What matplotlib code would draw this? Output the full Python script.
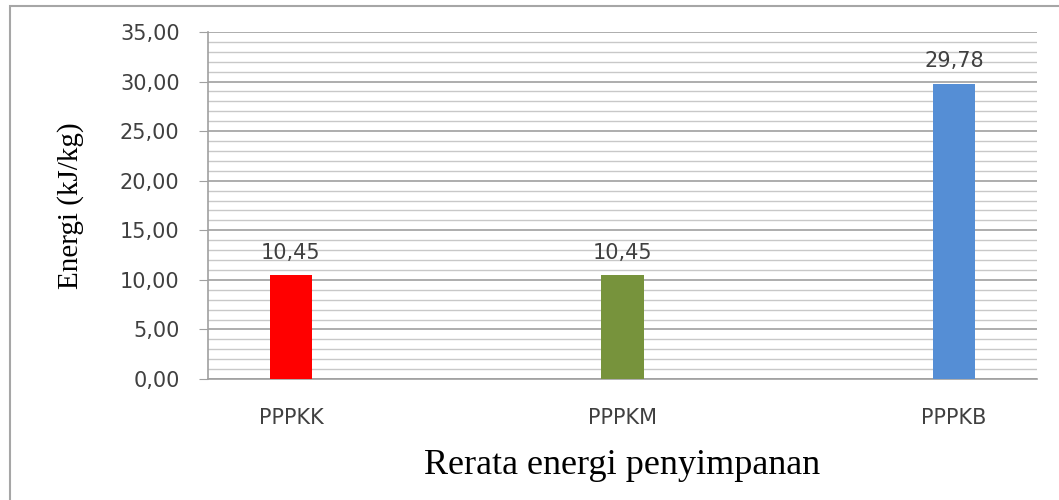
import matplotlib.pyplot as plt
from matplotlib.patches import Rectangle
from matplotlib.ticker import MultipleLocator, FuncFormatter

# data
kategori = ['PPPKK', 'PPPKM', 'PPPKB']
energi = [10.45, 10.45, 29.78]
label_nilai = ['10,45', '10,45', '29,78']
warna = ['#FF0000', '#77933C', '#558ED5']

fig = plt.figure(figsize=(10.59, 5.00), dpi=100)

# outer chart frame
fig.patches.append(Rectangle((10 / 1059, -0.01), 1.0, 1 - 6 / 500 + 0.01,
                             transform=fig.transFigure, fill=False,
                             edgecolor='#A6A6A6', linewidth=1.5))

ax = fig.add_axes([208 / 1059, 1 - 379 / 500, (1037 - 208) / 1059, (379 - 32) / 500])

x = range(len(kategori))
bars = ax.bar(x, energi, width=0.127, color=warna, zorder=3)

for b, t in zip(bars, label_nilai):
    ax.annotate(t, (b.get_x() + b.get_width() / 2, b.get_height()),
                xytext=(0, 9), textcoords='offset points',
                ha='center', va='bottom', fontsize=15, color='#404040')

ax.set_xlim(-0.25, 2.25)
ax.set_ylim(0, 35)
ax.yaxis.set_major_locator(MultipleLocator(5))
ax.yaxis.set_minor_locator(MultipleLocator(1))
ax.yaxis.set_major_formatter(FuncFormatter(lambda v, p: f'{v:.2f}'.replace('.', ',')))

ax.grid(which='major', axis='y', color='#A0A0A0', linewidth=1.2, zorder=0)
ax.grid(which='minor', axis='y', color='#C8C8C8', linewidth=1.0, zorder=0)
ax.set_axisbelow(True)

for s in ['top', 'right']:
    ax.spines[s].set_visible(False)
ax.spines['left'].set_color('#A0A0A0')
ax.spines['bottom'].set_color('#A0A0A0')
ax.spines['left'].set_linewidth(1.2)
ax.spines['bottom'].set_linewidth(1.2)

ax.set_xticks(list(x))
ax.set_xticklabels(kategori)
ax.tick_params(axis='x', length=0, pad=21, labelsize=15, labelcolor='#404040')
ax.tick_params(axis='y', which='major', length=6.5, color='#A0A0A0',
               pad=14, labelsize=15, labelcolor='#404040')
ax.tick_params(axis='y', which='minor', length=0)

ax.set_xlabel('Rerata energi penyimpanan', family='Liberation Serif',
              fontsize=26, labelpad=15)
ax.set_ylabel('Energi (kJ/kg)', family='Liberation Serif', fontsize=21,
              labelpad=26)

fig.savefig('out.png', dpi=100)
